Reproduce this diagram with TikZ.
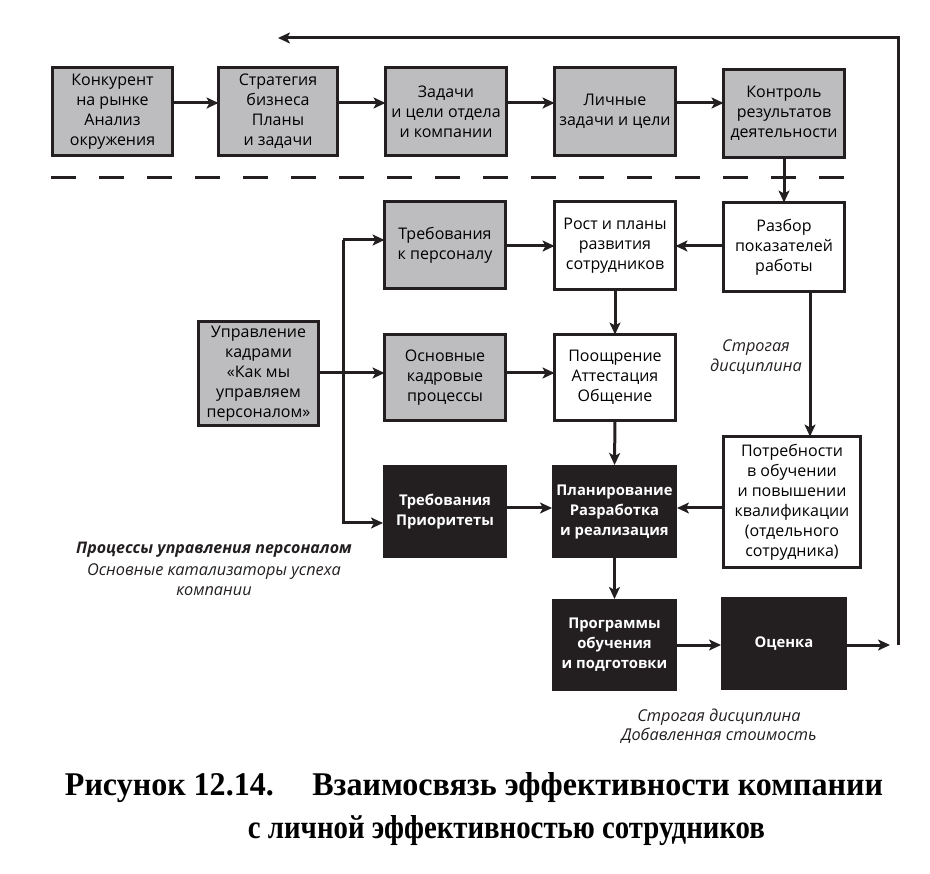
\documentclass[tikz,border=0pt]{standalone}
\usepackage{fontspec}
\setmainfont{Open Sans}
\newfontfamily\capfont{Liberation Serif}
\usetikzlibrary{arrows.meta}
\definecolor{boxgray}{RGB}{189,189,191}
\definecolor{boxblack}{RGB}{35,31,32}
\begin{document}
\begin{tikzpicture}[x=1pt,y=-1pt,
  every node/.style={inner sep=0pt, outer sep=0pt},
  base/.style={draw=boxblack, line width=3pt, align=center,
    font=\fontsize{16}{20}\selectfont},
  gbox/.style={base, fill=boxgray},
  wbox/.style={base, fill=white},
  bbox/.style={base, fill=boxblack, text=white,
    font=\fontsize{14.8}{20}\selectfont\bfseries},
  arr/.style={line width=3pt, draw=boxblack,
    -{Stealth[length=12pt,width=11pt,inset=3pt]}},
  ln/.style={line width=3pt, draw=boxblack},
  note/.style={align=center, text=boxblack,
    font=\fontsize{16.3}{20}\selectfont\itshape}
]
\useasboundingbox (0,0) rectangle (930,874);

% top row
\node[gbox, minimum width=120, minimum height=88] (b1) at (112.5,111.5) {Конкурент\\на рынке\\Анализ\\окружения};
\node[gbox, minimum width=119, minimum height=88] (b2) at (278,111.5) {Стратегия\\бизнеса\\Планы\\и задачи};
\node[gbox, minimum width=121, minimum height=88] (b3) at (446,111.5) {Задачи\\и цели отдела\\и компании};
\node[gbox, minimum width=121, minimum height=88] (b4) at (615,111.5) {Личные\\задачи и цели};
\node[gbox, minimum width=121, minimum height=88] (b5) at (784,113.5) {Контроль\\результатов\\деятельности};

% dashed separator
\coordinate (dL) at (51,178);
\coordinate (dR) at (845,178);
\draw[ln, dash pattern=on 25pt off 23pt] (dL) -- (dR);

% second part
\node[gbox, minimum width=121, minimum height=87] (treb) at (445,245) {Требования\\к персоналу};
\node[wbox, minimum width=121, minimum height=88] (rost) at (615,245.5) {Рост и планы\\развития\\сотрудников};
\node[wbox, minimum width=121, minimum height=89] (razb) at (784,247) {Разбор\\показателей\\работы};
\node[gbox, minimum width=120, minimum height=104] (upr) at (258.5,373.5) {Управление\\кадрами\\«Как мы\\управляем\\персоналом»};
\node[gbox, minimum width=121, minimum height=86] (osn) at (445,377.5) {Основные\\кадровые\\процессы};
\node[wbox, minimum width=121, minimum height=86] (pooshch) at (615,377.5) {Поощрение\\Аттестация\\Общение};
\node[bbox, minimum width=124, minimum height=93, draw=none] (trebpr) at (445,511.5) {Требования\\Приоритеты};
\node[bbox, minimum width=125, minimum height=93, draw=none] (plan) at (614.5,511.5) {Планирование\\Разработка\\и реализация};
\node[wbox, minimum width=137, minimum height=131] (potr) at (792,502) {Потребности\\в обучении\\и повышении\\квалификации\\(отдельного\\сотрудника)};
\node[bbox, minimum width=125, minimum height=92, draw=none] (prog) at (614.5,645) {Программы\\обучения\\и подготовки};
\node[bbox, minimum width=126, minimum height=93, draw=none] (ocenka) at (784,643.5) {Оценка};

% annotations
\node[note] (n1) at (756,357) {Строгая\\дисциплина};
\node[note, font=\fontsize{16}{20}\selectfont\bfseries\itshape] (n2) at (214,550) {Процессы управления персоналом};
\node[note] (n3) at (214,580) {Основные катализаторы успеха\\компании};
\node[note, font=\fontsize{16.3}{18.5}\selectfont\itshape] (n4) at (719,726) {Строгая дисциплина\\Добавленная стоимость};

% caption
\node[anchor=base, text=black] (cap1) at (474,795) {\resizebox{818pt}{23pt}{\capfont\bfseries Рисунок 12.14.\hspace{1.2em}Взаимосвязь эффективности компании}};
\node[anchor=base, text=black] (cap2) at (506.5,838) {\resizebox{517pt}{23pt}{\capfont\bfseries с личной эффективностью сотрудников}};

% level coordinates
\coordinate (yTop) at (0,103);
\coordinate (yR2) at (0,246);
\coordinate (yR3) at (0,373);
\coordinate (yR4) at (0,508);
\coordinate (yR5) at (0,645);
\coordinate (xr) at (810,0);

% top row arrows
\draw[arr] (b1.east |- yTop) -- (b2.west |- yTop);
\draw[arr] (b2.east |- yTop) -- (b3.west |- yTop);
\draw[arr] (b3.east |- yTop) -- (b4.west |- yTop);
\draw[arr] (b4.east |- yTop) -- (b5.west |- yTop);
\draw[arr] (b5.south) -- (razb.north);

% middle arrows
\draw[arr] (razb.west |- yR2) -- (rost.east |- yR2);
\draw[arr] (treb.east |- yR2) -- (rost.west |- yR2);
\draw[arr] (rost.south) -- (pooshch.north);
\draw[arr] (upr.east |- yR3) -- (osn.west |- yR3);
\draw[arr] (osn.east |- yR3) -- (pooshch.west |- yR3);
\draw[arr] (pooshch.south) -- (plan.north);
\draw[arr] (razb.south -| xr) -- (potr.north -| xr);
\draw[arr] (potr.west |- yR4) -- (plan.east |- yR4);
\draw[arr] (trebpr.east |- yR4) -- (plan.west |- yR4);
\draw[arr] (plan.south) -- (prog.north);
\draw[arr] (prog.east |- yR5) -- (ocenka.west |- yR5);

% left distribution line
\coordinate (vT) at (343,240);
\coordinate (vB) at (343,523);
\draw[arr] (vT) -- (treb.west |- vT);
\draw[arr] (vT) -- (vB) -- (trebpr.west |- vB);

% feedback loop
\coordinate (ocTip) at (890,645);
\coordinate (fbB) at (898,645);
\coordinate (fbT) at (898,38);
\coordinate (fbEnd) at (278,38);
\draw[arr] (ocenka.east |- yR5) -- (ocTip);
\draw[arr] (fbB) -- (fbT) -- (fbEnd);
\end{tikzpicture}
\end{document}
